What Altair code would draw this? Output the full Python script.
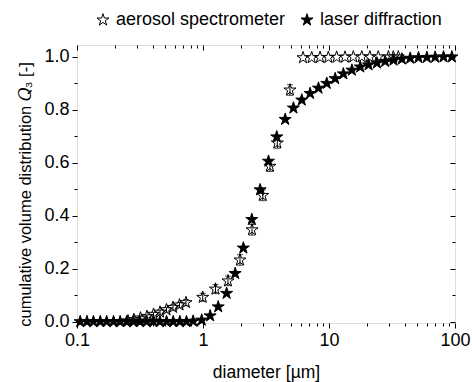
import altair as alt
import pandas as pd

# ---------------- data ----------------
laser_d = [0.106, 0.120, 0.135, 0.153, 0.172, 0.195, 0.220, 0.248, 0.280, 0.316,
           0.357, 0.403, 0.455, 0.514, 0.580, 0.655, 0.739, 0.835,
           0.977, 1.14, 1.32, 1.54, 1.80, 2.09, 2.44, 2.84, 3.31, 3.85,
           4.49, 5.22, 6.08, 7.08, 8.25, 9.60, 11.2, 13.0, 15.2, 17.7,
           20.6, 24.0, 27.9, 32.5, 37.9, 44.1, 51.3, 59.8, 69.6, 81.1, 94.4]
laser_q = [0.0, 0.0, 0.0, 0.0, 0.0, 0.0, 0.0, 0.0, 0.0, 0.0,
           0.0, 0.0, 0.0, 0.0, 0.0, 0.0, 0.0, 0.002,
           0.006, 0.022, 0.056, 0.107, 0.182, 0.278, 0.386, 0.498, 0.606, 0.698,
           0.764, 0.807, 0.837, 0.862, 0.882, 0.900, 0.918, 0.936, 0.950, 0.962,
           0.970, 0.977, 0.983, 0.988, 0.992, 0.995, 0.997, 0.998, 0.999, 1.0, 1.0]

aero_d = [0.254, 0.283, 0.319, 0.359, 0.405, 0.456, 0.513, 0.578, 0.651, 0.733,
          0.995, 1.256, 1.579, 1.966, 2.45, 2.98, 3.40, 3.89, 4.90,
          6.22, 7.29, 8.49, 9.88, 11.5, 13.4, 15.6, 18.2, 21.1, 24.6, 29.6, 32.4, 35.5]
aero_q = [0.003, 0.008, 0.014, 0.020, 0.028, 0.036, 0.045, 0.054, 0.063, 0.072,
          0.092, 0.123, 0.154, 0.233, 0.347, 0.477, 0.587, 0.675, 0.875,
          0.997, 0.997, 0.998, 0.998, 0.999, 0.999, 1.0, 1.0, 1.0, 1.0, 1.0, 1.0, 1.0]
aero_err = [0.003, 0.004, 0.005, 0.006, 0.007, 0.008, 0.009, 0.010, 0.010, 0.012,
            0.015, 0.017, 0.018, 0.020, 0.020, 0.020, 0.020, 0.020, 0.020,
            0.0, 0.0, 0.0, 0.0, 0.0, 0.0, 0.0, 0.0, 0.0, 0.0, 0.0, 0.0, 0.0]

series_names = ["aerosol spectrometer", "laser diffraction"]
x_ticks = [m * dec for dec in (0.1, 1, 10) for m in range(1, 10)] + [100]
y_ticks = [i / 10 for i in range(11)]
# ---------------------------------------------------------------

FONT = "Liberation Sans"
STAR = ("M0,-1L0.2245,-0.309L0.951,-0.309L0.363,0.118L0.588,0.809L0,0.382"
        "L-0.588,0.809L-0.363,0.118L-0.951,-0.309L-0.2245,-0.309Z")

points = pd.concat([
    pd.DataFrame({"d": aero_d, "q": aero_q, "series": series_names[0]}),
    pd.DataFrame({"d": laser_d, "q": laser_q, "series": series_names[1]}),
], ignore_index=True)

err = pd.DataFrame({"d": aero_d, "lo": [q - e for q, e in zip(aero_q, aero_err)],
                    "hi": [q + e for q, e in zip(aero_q, aero_err)], "e": aero_err})
err = err[err["e"] > 0]

W, H = 378, 278
xscale = alt.Scale(type="log", domain=[0.1, 100])
yscale = alt.Scale(domain=[-0.005, 1.045], zero=False, nice=False)

major_x = "abs(log(datum.value)/LN10 - round(log(datum.value)/LN10)) < 1e-6"
major_y = "round(datum.value*10) % 2 == 0"

def xaxis(main):
    if main:
        return alt.Axis(orient="bottom", values=x_ticks, format="~g",
                        labelExpr=f"{major_x} ? datum.label : ''",
                        tickSize={"condition": {"test": major_x, "value": 5}, "value": 3},
                        domain=False, grid=False, labelOverlap=False, labelFlush=False,
                        labelBound=False, labelPadding=3,
                        title="diameter [µm]", titlePadding=14,
                        labelFont=FONT, titleFont=FONT, labelFontSize=18, titleFontSize=17.5,
                        titleFontWeight="normal", labelColor="black", titleColor="black",
                        tickColor="black")
    return alt.Axis(orient="bottom", offset=-H, values=x_ticks, labels=False,
                    tickSize={"condition": {"test": major_x, "value": 5}, "value": 3},
                    domain=False, grid=False, title=None, tickColor="black")

def yaxis(main):
    if main:
        return alt.Axis(orient="left", values=y_ticks, format=".1f",
                        labelExpr=f"{major_y} ? datum.label : ''",
                        tickSize={"condition": {"test": major_y, "value": 5}, "value": 3},
                        domain=False, grid=False, labelOverlap=False, labelFlush=False,
                        labelPadding=3,
                        title="cumulative volume distribution 𝑄₃ [-]", titlePadding=10,
                        titleY=H / 2 + 10,
                        labelFont=FONT, titleFont=FONT, labelFontSize=18, titleFontSize=16.5,
                        titleFontWeight="normal", labelColor="black", titleColor="black",
                        tickColor="black")
    return alt.Axis(orient="left", offset=-W, values=y_ticks, labels=False,
                    tickSize={"condition": {"test": major_y, "value": 5}, "value": 3},
                    domain=False, grid=False, title=None, tickColor="black")

rules = alt.Chart(err).mark_rule(color="black", strokeWidth=1).encode(
    x=alt.X("d:Q", scale=xscale, axis=xaxis(False)),
    y=alt.Y("lo:Q", scale=yscale, axis=yaxis(False)),
    y2="hi:Q",
)
cap_lo = alt.Chart(err).mark_tick(color="black", orient="horizontal", size=6, thickness=1).encode(
    x=alt.X("d:Q", scale=xscale, axis=None),
    y=alt.Y("lo:Q", scale=yscale, axis=None),
)
cap_hi = alt.Chart(err).mark_tick(color="black", orient="horizontal", size=6, thickness=1).encode(
    x=alt.X("d:Q", scale=xscale, axis=None),
    y=alt.Y("hi:Q", scale=yscale, axis=None),
)

pts = alt.Chart(points).mark_point(shape=STAR, size=160, stroke="black", strokeWidth=1,
                                   filled=True, opacity=1).encode(
    x=alt.X("d:Q", scale=xscale, axis=xaxis(True)),
    y=alt.Y("q:Q", scale=yscale, axis=yaxis(True)),
    fill=alt.Fill("series:N",
                  scale=alt.Scale(domain=series_names, range=["transparent", "black"]),
                  legend=alt.Legend(orient="none", legendX=17, legendY=-34,
                                    direction="horizontal", title=None,
                                    symbolType=STAR, symbolSize=160,
                                    symbolStrokeColor="black", symbolStrokeWidth=1,
                                    labelFont=FONT, labelFontSize=18, labelColor="black",
                                    labelLimit=400, labelOffset=4, columnPadding=12)),
)

chart = alt.layer(rules, cap_lo, cap_hi, pts).resolve_scale(
    x="independent", y="independent"
).properties(
    width=W, height=H, autosize="none",
    padding={"left": 77, "top": 45, "right": 17, "bottom": 59},
).configure_view(stroke="black", strokeWidth=1).configure(background="white")

chart.save("out.html", embed_options={"renderer": "svg", "actions": False})
